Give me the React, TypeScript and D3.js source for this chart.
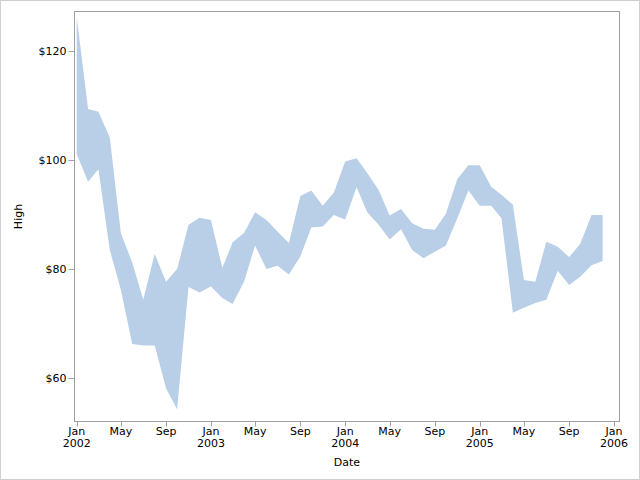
import React from "react";
import * as d3 from "d3";

const months: string[] = [
  "2002-01","2002-02","2002-03","2002-04","2002-05","2002-06","2002-07","2002-08","2002-09","2002-10","2002-11","2002-12",
  "2003-01","2003-02","2003-03","2003-04","2003-05","2003-06","2003-07","2003-08","2003-09","2003-10","2003-11","2003-12",
  "2004-01","2004-02","2004-03","2004-04","2004-05","2004-06","2004-07","2004-08","2004-09","2004-10","2004-11","2004-12",
  "2005-01","2005-02","2005-03","2005-04","2005-05","2005-06","2005-07","2005-08","2005-09","2005-10","2005-11","2005-12",
];

const highValues: number[] = [
  126.2, 109.3, 108.8, 104.1, 86.6, 81.2, 74.4, 82.8, 77.7, 80.0, 88.1, 89.4,
  89.0, 80.2, 84.9, 86.6, 90.4, 89.0, 86.9, 84.8, 93.4, 94.4, 91.6, 94.0,
  99.7, 100.3, 97.6, 94.5, 89.8, 91.0, 88.4, 87.4, 87.2, 90.2, 96.5, 99.0,
  99.0, 95.1, 93.6, 91.8, 78.0, 77.7, 85.0, 84.1, 82.2, 84.6, 89.9, 89.9,
];

const lowValues: number[] = [
  101.1, 96.0, 98.3, 83.5, 76.2, 66.3, 66.0, 66.0, 58.2, 54.3, 76.7, 75.7,
  76.8, 74.7, 73.6, 77.7, 84.3, 80.0, 80.6, 79.0, 82.3, 87.6, 87.8, 89.9,
  89.1, 95.0, 90.4, 88.1, 85.4, 87.3, 83.5, 82.0, 83.2, 84.3, 89.3, 94.4,
  91.6, 91.6, 89.3, 72.0, 72.9, 73.8, 74.4, 79.7, 77.1, 78.6, 80.7, 81.5,
];

const yTicks: number[] = [60, 80, 100, 120];
const xTickLabels: string[] = ["Jan", "May", "Sep"];

const W = 640;
const H = 480;
const frame = { left: 74.5, right: 619.5, top: 11.5, bottom: 421.5 };

export default function App() {
  const parse = d3.timeParse("%Y-%m");
  const data = months.map((m, i) => ({
    date: parse(m) as Date,
    high: highValues[i],
    low: lowValues[i],
  }));

  const x = d3
    .scaleTime()
    .domain([new Date(2002, 0, 1), new Date(2006, 0, 1)])
    .range([76.7, 614]);
  const y = d3.scaleLinear().domain([60, 120]).range([378.3, 50.7]);

  const area = d3
    .area<{ date: Date; high: number; low: number }>()
    .x((d) => x(d.date))
    .y0((d) => y(d.low))
    .y1((d) => y(d.high));

  const xTicks = d3.timeMonth.every(4)!.range(new Date(2002, 0, 1), new Date(2006, 0, 2));
  const font = "'DejaVu Sans', sans-serif";
  const money = d3.format("$,.0f");

  return (
    <svg
      width={W}
      height={H}
      style={{ position: "absolute", left: 0, top: 0, display: "block", background: "#fff" }}
    >
      <rect x={0.5} y={0.5} width={W - 1} height={H - 1} fill="#fff" stroke="#d0d0d0" />
      <defs>
        <clipPath id="plotclip">
          <rect x={frame.left} y={frame.top} width={frame.right - frame.left} height={frame.bottom - frame.top} />
        </clipPath>
      </defs>
      <path d={area(data) || ""} fill="#b9cfe7" clipPath="url(#plotclip)" />
      <rect
        x={frame.left}
        y={frame.top}
        width={frame.right - frame.left}
        height={frame.bottom - frame.top}
        fill="none"
        stroke="#a0a0a4"
      />
      {yTicks.map((t) => (
        <g key={t}>
          <line x1={frame.left - 6} x2={frame.left} y1={Math.round(y(t)) + 0.5} y2={Math.round(y(t)) + 0.5} stroke="#a0a0a4" />
          <text
            x={frame.left - 8}
            y={y(t)}
            dy="0.35em"
            textAnchor="end"
            fontFamily={font}
            fontSize={11}
            fill="#000"
          >
            {money(t)}
          </text>
        </g>
      ))}
      {xTicks.map((d, i) => {
        const px = Math.round(x(d)) + 0.5;
        const isJan = d.getMonth() === 0;
        return (
          <g key={i}>
            <line x1={px} x2={px} y1={frame.bottom} y2={frame.bottom + 5} stroke="#a0a0a4" />
            <text x={x(d)} y={435} textAnchor="middle" fontFamily={font} fontSize={11} fill="#000">
              {xTickLabels[d.getMonth() / 4]}
            </text>
            {isJan && (
              <text x={x(d)} y={447} textAnchor="middle" fontFamily={font} fontSize={11} fill="#000">
                {d.getFullYear()}
              </text>
            )}
          </g>
        );
      })}
      <text x={(frame.left + frame.right) / 2} y={466} textAnchor="middle" fontFamily={font} fontSize={11} fill="#000">
        Date
      </text>
      <text
        transform={`translate(22, ${(frame.top + frame.bottom) / 2}) rotate(-90)`}
        textAnchor="middle"
        fontFamily={font}
        fontSize={11}
        fill="#000"
      >
        High
      </text>
    </svg>
  );
}
